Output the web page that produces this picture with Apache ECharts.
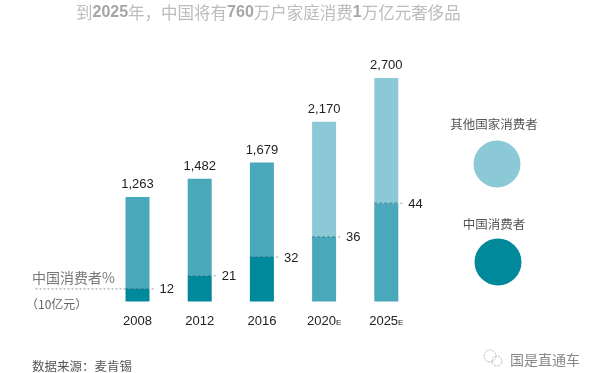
<!DOCTYPE html>
<html><head><meta charset="utf-8">
<style>html,body{margin:0;padding:0;background:#fff}#c{width:600px;height:373px}</style>
<script src="https://cdn.jsdelivr.net/npm/echarts@6/dist/echarts.min.js"></script>
</head><body><div id="c"></div>
<script>
const categories = ['2008','2012','2016','2020','2025'];
const estimated = [false,false,false,true,true];
const chinaValues = [152,311,537,781,1188];
const otherValues = [1111,1171,1142,1389,1512];
const totalLabels = ['1,263','1,482','1,679','2,170','2,700'];
const shareLabels = ['12','21','32','36','44'];
const chinaColors = ['#00899b','#00899b','#00899b','#4aa8bb','#4aa8bb'];
const otherColors = ['#4aa8bb','#4aa8bb','#4aa8bb','#8cc9d7','#8cc9d7'];

const latin = '"Liberation Sans", Arial, sans-serif';
const cjk = '"Noto Sans CJK SC", sans-serif';
const BAR = 24;
const chart = echarts.init(document.getElementById('c'), null, {renderer:'canvas'});
const text = (x,y,t,size,color,align) => ({type:'text',x,y,style:{text:t,font:size+'px '+cjk,fill:color,align:align||'left',verticalAlign:'middle'}});

chart.setOption({
  animation:false,
  backgroundColor:'#ffffff',
  title:{
    left:76, top:3, padding:0,
    text:'{c|到}{b|2025}{c|年，中国将有}{b|760}{c|万户家庭消费}{b|1}{c|万亿元奢侈品}',
    textStyle:{fontWeight:'normal',rich:{
      c:{fontFamily:cjk,fontWeight:'normal',fontSize:16.5,color:'#bcbcbc',lineHeight:20},
      b:{fontFamily:latin,fontWeight:'bold',fontSize:16,color:'#a6a6a6',lineHeight:20}
    }}
  },
  grid:{left:106.4,width:311,top:78,bottom:71.5,containLabel:false},
  xAxis:{
    type:'category',data:categories,
    axisLine:{show:false},axisTick:{show:false},
    axisLabel:{
      interval:0,hideOverlap:false,
      margin:13,
      formatter:(v,i)=>estimated[i]?'{y|'+v+'}{e|E}':'{y|'+v+'}',
      rich:{y:{fontFamily:latin,fontSize:13,color:'#222'},e:{fontFamily:latin,fontSize:8,color:'#222',verticalAlign:'bottom',padding:[0,0,1,0]}}
    }
  },
  yAxis:{type:'value',min:0,max:2700,show:false},
  series:[
    {type:'bar',stack:'s',barWidth:BAR,data:chinaValues.map((v,i)=>({value:v,itemStyle:{color:chinaColors[i]}}))},
    {type:'bar',stack:'s',barWidth:BAR,data:otherValues.map((v,i)=>({value:v,itemStyle:{color:otherColors[i]}})),
      label:{show:true,position:'top',distance:6,fontFamily:latin,fontSize:13,color:'#222',formatter:p=>totalLabels[p.dataIndex]}},
    {type:'custom',z:5,data:chinaValues.map((v,i)=>[i,v]),
      encode:{x:0,y:1},
      renderItem:(params,api)=>{
        const i=params.dataIndex;
        const p=api.coord([api.value(0),api.value(1)]);
        const l=p[0]-BAR/2, r=p[0]+BAR/2;
        const kids=[
          {type:'line',shape:{x1:l,y1:p[1],x2:r,y2:p[1]},style:{stroke:'#1d6f80',lineWidth:1,lineDash:[3,2],opacity:.8}},
          {type:'line',shape:{x1:r+2,y1:p[1],x2:r+6,y2:p[1]},style:{stroke:'#999',lineWidth:1,lineDash:[2,2]}},
          {type:'text',x:r+10,y:p[1]+1,style:{text:shareLabels[i],font:'13px '+latin,fill:'#222',verticalAlign:'middle'}}
        ];
        if(i===0) kids.push({type:'line',shape:{x1:l-90,y1:p[1],x2:l,y2:p[1]},style:{stroke:'#999',lineWidth:1,lineDash:[2,2]}});
        return {type:'group',children:kids};
      }}
  ],
  graphic:[
    text(32,278,'中国消费者%',14,'#777'),
    text(26,304,'（10亿元）',12,'#666'),
    text(32,366,'数据来源：麦肯锡',12.5,'#555'),
    text(494,124,'其他国家消费者',12.5,'#555','center'),
    text(494,224,'中国消费者',12.5,'#555','center'),
    {type:'circle',shape:{cx:497,cy:164,r:23.5},style:{fill:'#8cc9d7'}},
    {type:'circle',shape:{cx:498,cy:262,r:23.5},style:{fill:'#00899b'}},
    {type:'circle',shape:{cx:490,cy:356,r:6},style:{fill:'none',stroke:'#bbb',lineWidth:1,lineDash:[2,1]}},
    {type:'circle',shape:{cx:497,cy:361,r:5},style:{fill:'none',stroke:'#bbb',lineWidth:1,lineDash:[2,1]}},
    text(510,360,'国是直通车',14,'#888')
  ]
});
</script></body></html>
